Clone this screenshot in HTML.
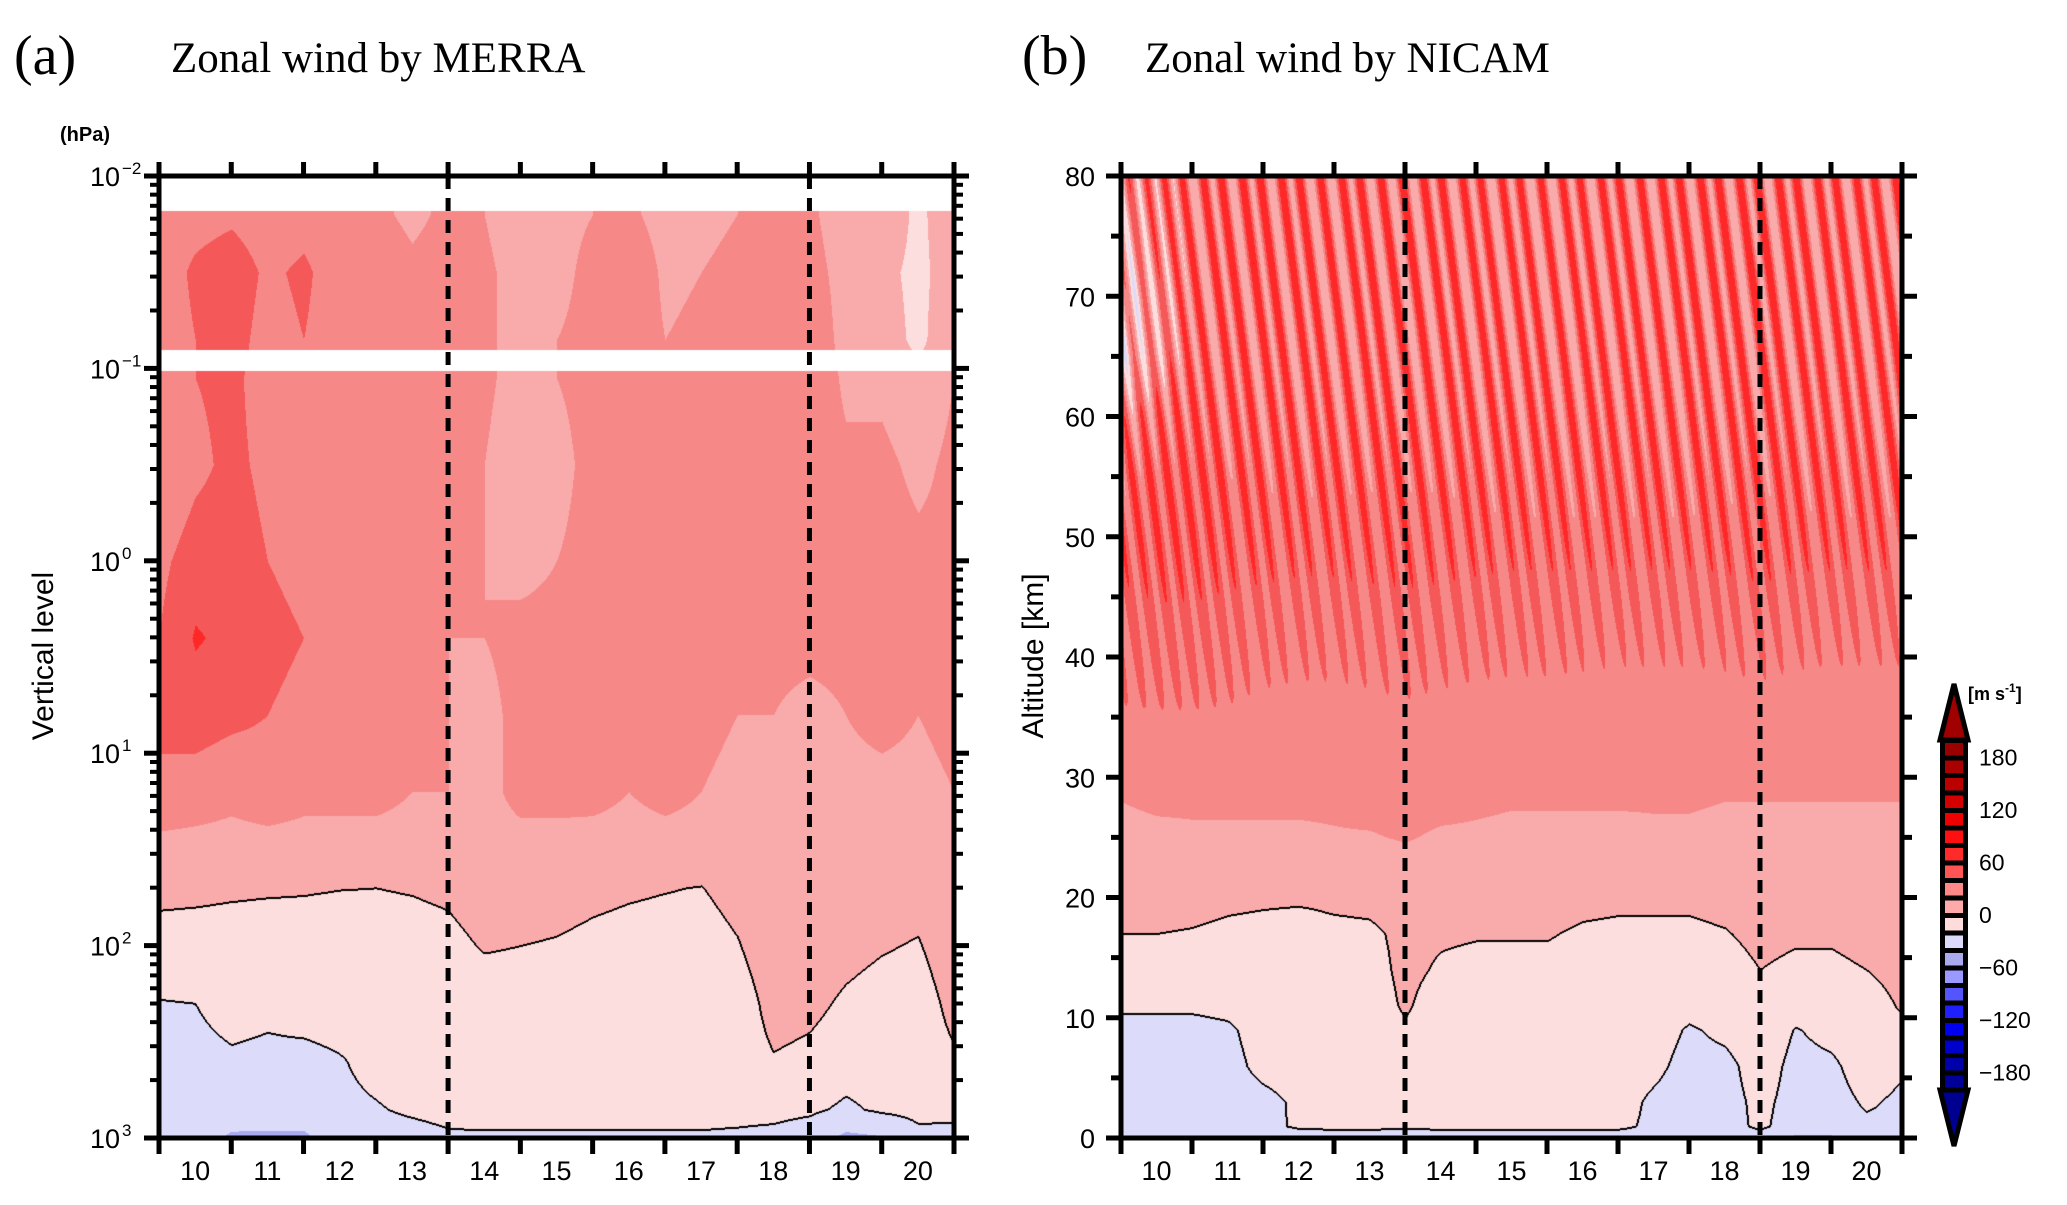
<!DOCTYPE html>
<html><head><meta charset="utf-8">
<style>
html,body{margin:0;padding:0;background:#fff;}
#root{position:relative;width:2067px;height:1205px;overflow:hidden;background:#fff;}
canvas{position:absolute;}
svg{position:absolute;left:0;top:0;}
</style></head>
<body>
<div id="root">
<canvas id="cA"></canvas>
<canvas id="cB"></canvas>
<svg id="ov" width="2067" height="1205"></svg>
</div>
<script>
// ---------- data ----------
const days = [9.5,10,10.5,11,11.5,12,12.5,13,13.5,14,14.5,15,15.5,16,16.5,17,17.5,18,18.5,19,19.5,20,20.5];
const dayLabels = [10,11,12,13,14,15,16,17,18,19,20];
const dashedDays = [13.5,18.5];
// Panel a: rows in log10(hPa)
const merraLevels = [-1.8,-1.5,-1.15,-0.95,-0.5,0,0.4,0.8,1.2,1.5,1.7,2.0,2.3,2.6,2.85,3.0];
const merraWind = [
[45,50,55,45,50,42,45,35,45,40,25,35,40,45,30,35,40,50,45,25,35,15,35],
[45,65,75,55,65,45,55,45,50,45,30,35,45,60,35,40,45,55,50,30,25,15,30],
[45,60,70,50,60,45,55,50,55,45,30,40,45,55,40,45,50,55,60,30,30,15,35],
[45,60,65,50,60,50,55,45,55,45,30,40,45,50,40,45,50,55,60,35,35,25,40],
[40,55,65,55,50,45,50,40,45,40,25,35,45,40,40,45,50,60,55,45,45,35,45],
[55,70,70,60,55,50,55,45,45,40,35,40,45,45,40,45,45,60,55,50,50,45,45],
[60,82,75,65,60,55,50,45,40,40,45,45,45,50,40,50,50,45,45,45,50,45,45],
[65,70,65,60,55,50,45,45,40,35,45,50,45,50,45,45,40,40,35,40,45,40,45],
[55,50,45,50,45,45,45,40,40,35,45,45,45,40,45,40,35,35,35,35,35,35,40],
[33,33,33,33,33,33,33,33,33,34,34,34,33,33,33,33,34,36,36,35,34,34,36],
[24,23.5,22.5,21.8,21.4,20.4,20,21.4,24,32,30.5,28.8,25.3,22.8,21,19.3,28.8,35,35,35,32,28.8,35],
[13.7,13,12,11.3,10.9,9.9,9.5,10.9,13.7,21.8,20,18.3,14.8,12.3,10.5,8.8,18.3,36,34,27,21.8,18.3,34],
[-1,0,5,3,6,7,8,8,8,8,8,8,8,8,8,8,7,28.8,25.3,16.5,11,9,27],
[-5,-4,-2,-3,-4,-1,4,7,8,8,8,8,8,8,8,8,8,18.3,14.7,8,8,8,17],
[-8,-8,-4,-6,-6,-3,-1,2,4,5,5,5,5,5,5,5,5,5,3,-3,3,5,4],
[-5,-5,-25,-25,-25,-5,-5,-5,-2,-2,-2,-2,-2,-2,-2,-2,-3,-5,-10,-25,-22,-5,-5]
];
// Panel b: rows in km
const nicamAlt = [0,1,3,6,9,11,14,17,19,22,25,28,32,36,40,45,50,55,60,65,70,75,80];
const nicamWind = [
[-8,-8,-8,-8,-8,-8,-8,-8,-8,-8,-8,-8,-8,-8,-8,-8,-8,-8,-8,-25,-25,-8,-8],
[-4,-4,-4,-4,-4,2,3,3,2,3,3,3,3,3,3,-3,-6,-6,3,-8,-6,-3,-3],
[-8,-8,-8,-8,-5,3,6,6,5,6,6,6,6,6,6,-3,-8,-6,4,-6,-6,2,-3],
[-8,-8,-8,-6,5,8,8,8,12,8,8,8,8,8,8,4,-6,-5,8,-5,-3,8,2],
[-6,-6,-6,-3,8,10,10,10,18,10,10,10,10,10,10,8,-2,4,12,-1,5,10,16],
[3,3,3,5,10,10,10,12,22,12,10,10,10,10,10,10,6,10,18,8,10,12,22],
[12,12,12,12,13,13,13,14,24,18,16,16,16,14,14,14,14,14,20,17,17,20,26],
[20,20,19,17,16,15,16,17,24,22,21,21,21,18,17,17,17,19,24,22,22,25,28],
[24,24,23,21,20,19,21,22,27,26,25,25,25,22,21,21,21,23,27,26,26,28,30],
[30,30,30,30,30,30,30,30,34,31,31,31,31,30,30,30,30,30,31,30,30,31,32],
[36,37,38,38,38,38,39,39,41,38,38,37,37,37,37,38,38,37,37,37,37,37,37],
[40,42,42,42,42,42,42,44,46,44,42,41,41,41,41,41,41,40,40,40,40,40,40],
[48,50,50,50,48,46,46,48,50,48,46,44,44,44,44,44,44,44,45,43,42,42,42],
[55,56,56,55,52,50,50,52,54,52,50,49,49,48,47,47,47,48,50,47,46,46,46],
[58,60,60,58,56,55,55,56,58,56,55,54,54,53,52,52,52,53,55,53,52,52,52],
[62,65,65,63,62,61,61,62,63,62,61,60,60,60,60,60,60,60,62,60,60,60,60],
[64,68,68,66,65,64,64,65,65,65,64,63,63,63,63,63,63,64,65,64,63,63,63],
[62,67,68,67,66,66,66,66,66,66,65,65,65,65,65,65,65,65,66,65,65,65,65],
[48,56,64,64,64,63,63,64,64,64,63,63,63,63,63,63,63,63,64,63,63,63,63],
[22,38,58,62,62,61,60,62,62,62,60,60,60,60,60,60,62,62,62,62,62,60,60],
[18,38,58,62,62,61,60,62,62,61,58,58,58,58,60,60,62,62,62,62,60,60,60],
[32,48,58,62,62,61,60,62,62,61,58,58,58,58,60,60,62,62,62,62,60,60,60],
[42,52,58,62,62,61,60,62,62,61,58,58,58,58,60,60,62,62,62,62,60,60,60]
];
// wave streaks (day at 80 km) and streak amplitude profile
const streakDays = [8.6,8.85,9.1,9.35,9.6,9.85,10.1,10.35,10.65,10.9,11.2,11.45,11.75,12.0,12.3,12.6,12.85,13.15,13.45,13.75,14.0,14.3,14.55,14.85,15.1,15.4,15.7,15.95,16.25,16.5,16.8,17.1,17.35,17.65,17.9,18.2,18.45,18.75,19.0,19.3,19.55,19.85,20.1,20.4];
const streakAmpAlt = [0,32,40,50,60,70,80];
const streakAmp = [0,0,10,22,32,38,38];
const cbLabels = [180,120,60,0,-60,-120,-180];
const cbColors = ["#990000","#aa0000","#bb0000","#d40000","#ee0000","#ff1010","#ff2a2a","#ff5555","#ff8888","#ffaaaa","#ffdcdc","#dcdcfa","#aaaaee","#9999ff","#5555ff","#2020ff","#0000ee","#0000cc","#0000aa","#000099"];

// ---------- geometry ----------
const A = {L:159,R:954,T:176,B:1138};
const Bp = {L:1121,R:1902,T:176,B:1138};
const xA = d => A.L + (d-9.5)/11*(A.R-A.L);
const xB = d => Bp.L + (d-9.5)/11*(Bp.R-Bp.L);
const yA = lp => A.T + (lp+2)/5*(A.B-A.T);
const yB = h => Bp.B - h/80*(Bp.B-Bp.T);

function interp1(arr, v){
  if(v<=arr[0]) return [0,0,0];
  const n=arr.length;
  if(v>=arr[n-1]) return [n-1,n-1,0];
  for(let i=0;i<n-1;i++) if(v<=arr[i+1]) return [i,i+1,(v-arr[i])/(arr[i+1]-arr[i])];
}
function bil(rows, cols, grid, r, c){
  const [r0,r1,fr]=interp1(rows,r), [c0,c1,fc]=interp1(cols,c);
  const a=grid[r0][c0]*(1-fc)+grid[r0][c1]*fc;
  const b=grid[r1][c0]*(1-fc)+grid[r1][c1]*fc;
  return a*(1-fr)+b*fr;
}
function col(v){
  if(v>=120) return [221,0,0];
  if(v>=100) return [255,0,0];
  if(v>=80) return [255,40,40];
  if(v>=60) return [245,88,88];
  if(v>=40) return [246,136,136];
  if(v>=20) return [249,170,170];
  if(v>=0) return [253,222,222];
  if(v>=-20) return [220,220,250];
  if(v>=-40) return [170,170,240];
  if(v>=-60) return [144,144,255];
  return [85,85,255];
}
function render(canvas, P, valFn, maskFn, lineFn){
  const W=P.R-P.L, H=P.B-P.T;
  canvas.width=W; canvas.height=H;
  canvas.style.left=P.L+'px'; canvas.style.top=P.T+'px';
  const ctx=canvas.getContext('2d');
  const img=ctx.createImageData(W,H);
  const V=new Float32Array(W*H);
  for(let j=0;j<H;j++)for(let i=0;i<W;i++) V[j*W+i]=valFn(i+P.L,j+P.T);
  for(let j=0;j<H;j++)for(let i=0;i<W;i++){
    const k=j*W+i, o=k*4;
    if(!maskFn(i+P.L,j+P.T)){img.data[o]=255;img.data[o+1]=255;img.data[o+2]=255;img.data[o+3]=255;continue;}
    let c=col(V[k]);
    if(lineFn(i+P.L,j+P.T)){
      for(const T of [0,20]){
        const s=V[k]>=T;
        if((i+1<W && (V[k+1]>=T)!==s)||(j+1<H && (V[k+W]>=T)!==s)||(i>0&&(V[k-1]>=T)!==s)||(j>0&&(V[k-W]>=T)!==s)) c=[0,0,0];
      }
    }
    img.data[o]=c[0];img.data[o+1]=c[1];img.data[o+2]=c[2];img.data[o+3]=255;
  }
  ctx.putImageData(img,0,0);
}
// panel a
render(document.getElementById('cA'), A,
  (x,y)=>bil(merraLevels,days,merraWind,(y-A.T)/(A.B-A.T)*5-2,9.5+(x-A.L)/(A.R-A.L)*11),
  (x,y)=>{const lp=(y-A.T)/(A.B-A.T)*5-2; return (lp>=-1.82&&lp<=-1.10)||lp>=-0.99;},
  (x,y)=>((y-A.T)/(A.B-A.T)*5-2)>1.4);
// panel b
function nicamVal(x,y){
  const h=(Bp.B-y)/(Bp.B-Bp.T)*80, d=9.5+(x-Bp.L)/(Bp.R-Bp.L)*11;
  let v=bil(nicamAlt,days,nicamWind,h,d);
  const [a0,a1,fa]=interp1(streakAmpAlt,h);
  const amp=streakAmp[a0]*(1-fa)+streakAmp[a1]*fa;
  if(amp>0){
    let md=9;
    for(const s of streakDays){const c=s+(80-h)*0.022; const dd=Math.abs(d-c); if(dd<md) md=dd;}
    v+=amp*Math.cos(Math.PI*Math.min(md,0.14)/0.14);
  }
  return v;
}
render(document.getElementById('cB'), Bp, nicamVal, ()=>true, (x,y)=>((Bp.B-y)/(Bp.B-Bp.T)*80)<26);

// ---------- overlay ----------
const NS='http://www.w3.org/2000/svg';
const ov=document.getElementById('ov');
function el(tag, at, txt, parent){const e=document.createElementNS(NS,tag);for(const k in at)e.setAttribute(k,at[k]);if(txt!==undefined)e.textContent=txt;(parent||ov).appendChild(e);return e;}
const F='"Liberation Sans", "DejaVu Sans", sans-serif';
const FS='"Liberation Serif", serif';

let t;
t=el('text',{x:14,y:74,'font-family':FS,'font-size':56},'(a)');

t=el('text',{x:171,y:72,'font-family':FS,'font-size':43},'Zonal wind by MERRA');

t=el('text',{x:1022,y:74,'font-family':FS,'font-size':56},'(b)');

t=el('text',{x:1145,y:72,'font-family':FS,'font-size':43},'Zonal wind by NICAM');


function drawFrame(P, xf, name){
  for(const d of dashedDays){
    const l=el('line',{x1:xf(d),x2:xf(d),y1:P.T,y2:P.B,stroke:'#000','stroke-width':5,'stroke-dasharray':'13,9'});
    
  }
  const r=el('rect',{x:P.L,y:P.T,width:P.R-P.L,height:P.B-P.T,fill:'none',stroke:'#000','stroke-width':5});
  
  for(let k=0;k<=11;k++){
    const x=xf(9.5+k);
    el('line',{x1:x,x2:x,y1:P.T,y2:P.T-14,stroke:'#000','stroke-width':5});
    el('line',{x1:x,x2:x,y1:P.B,y2:P.B+16,stroke:'#000','stroke-width':5});
  }
  for(const d of dayLabels){
    const tx=el('text',{x:xf(d),y:1180,'font-family':F,'font-size':27,'text-anchor':'middle'},String(d));
    
  }
}
drawFrame(A,xA,'panel-a');
drawFrame(Bp,xB,'panel-b');

for(let dec=-2;dec<=3;dec++){
  const y=yA(dec);
  el('line',{x1:A.L-15,x2:A.L,y1:y,y2:y,stroke:'#000','stroke-width':5});
  el('line',{x1:A.R,x2:A.R+15,y1:y,y2:y,stroke:'#000','stroke-width':5});
  const tx=el('text',{x:120,y:y+10,'font-family':F,'font-size':27,'text-anchor':'end'},'10');
  
  el('text',{x:122,y:y-2,'font-family':F,'font-size':17},dec<0?'\u2212'+(-dec):String(dec));
  if(dec<3) for(let m=2;m<=9;m++){
    const ym=yA(dec+1-Math.log10(m));
    el('line',{x1:A.L-9,x2:A.L,y1:ym,y2:ym,stroke:'#000','stroke-width':4});
    el('line',{x1:A.R,x2:A.R+9,y1:ym,y2:ym,stroke:'#000','stroke-width':4});
  }
}
t=el('text',{x:60,y:141,'font-family':F,'font-size':20,'font-weight':'bold'},'(hPa)');

t=el('text',{x:0,y:0,'font-family':F,'font-size':30,'text-anchor':'middle',transform:'translate(53,656) rotate(-90)'},'Vertical level');


for(let h=0;h<=80;h+=5){
  const y=yB(h), len=h%10===0?15:10;
  el('line',{x1:Bp.L-len,x2:Bp.L,y1:y,y2:y,stroke:'#000','stroke-width':5});
  el('line',{x1:Bp.R,x2:Bp.R+len,y1:y,y2:y,stroke:'#000','stroke-width':5});
  if(h%10===0){
    const tx=el('text',{x:1095,y:y+10,'font-family':F,'font-size':27,'text-anchor':'end'},String(h));
    
  }
}
t=el('text',{x:0,y:0,'font-family':F,'font-size':30,'text-anchor':'middle',transform:'translate(1043,656) rotate(-90)'},'Altitude [km]');


// colorbar
const cbX=1940, cbW=28, cbTop=740, cbStep=17.5;
t=el('polygon',{points:`${cbX},${cbTop} ${cbX+cbW/2},${cbTop-56} ${cbX+cbW},${cbTop}`,fill:'#a00000',stroke:'#000','stroke-width':5});

const cbBot=cbTop+cbColors.length*cbStep;
el('rect',{x:cbX,y:cbTop,width:cbW,height:cbBot-cbTop,fill:'#000'});
cbColors.forEach((c,i)=>{
  const r=el('rect',{x:cbX+5,y:cbTop+i*cbStep+3,width:cbW-10,height:cbStep-5,fill:c});
  
});
t=el('polygon',{points:`${cbX},${cbBot} ${cbX+cbW/2},${cbBot+56} ${cbX+cbW},${cbBot}`,fill:'#000090',stroke:'#000','stroke-width':5});

cbLabels.forEach((v,i)=>{
  const y=cbTop+(1+i*3)*cbStep;
  const tx=el('text',{x:1979,y:y+8,'font-family':F,'font-size':23},v<0?'\u2212'+(-v):String(v));
  
});
t=el('text',{x:1968,y:700,'font-family':F,'font-size':18,'font-weight':'bold'});

el('tspan',{},'[m s',t);
el('tspan',{'font-size':12,dy:-8},'-1',t);
el('tspan',{dy:8},']',t);
</script>
</body></html>
